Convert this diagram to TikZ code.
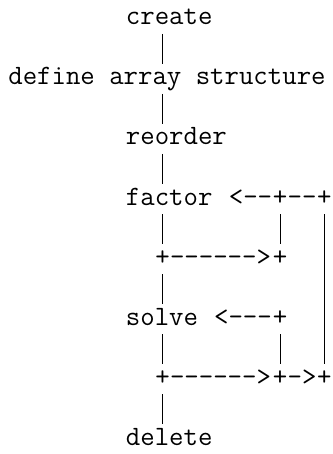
\documentclass[tikz,border=0pt]{standalone}
\begin{document}
\begin{tikzpicture}[x=1pt,y=1pt,
  txt/.style={anchor=base west, inner sep=0pt, outer sep=0pt,
    font=\ttfamily\fontsize{28}{30}\selectfont,
    text height=21pt, text depth=9pt},
  bar/.style={line width=1.4pt, black}]
\useasboundingbox (0,0) rectangle (332,-454);
\def\W{14.7}\def\X{8.35}\def\H{30.0}\def\B{25}
\def\dd{-\kern0pt}
\newcommand\gridnode[5][]{\node[txt,#1] (#2) at ({\X+#3*\W},{-(\B+#4*\H)}) {#5};}
% column lines
\coordinate (c10) at ({\X+10.5*\W},0);
\coordinate (c18) at ({\X+18.5*\W},0);
\coordinate (c21) at ({\X+21.5*\W},0);
% words
\gridnode{create}{8}{0}{create}
\gridnode{define}{0}{2}{define array structure}
\gridnode{reorder}{8}{4}{reorder}
\gridnode{factor}{8}{6}{factor}
\gridnode{solve}{8}{10}{solve}
\gridnode[text depth=1pt]{delete}{8}{14}{delete}
% row 6
\gridnode{a1}{15}{6}{<\dd\dd}
\gridnode{p1}{18}{6}{+}
\gridnode{a2}{19}{6}{\dd\dd}
\gridnode{p2}{21}{6}{+}
% row 8
\gridnode{p3}{10}{8}{+}
\gridnode{a3}{11}{8}{\dd\dd\dd\dd\dd\dd>}
\gridnode{p4}{18}{8}{+}
% row 10
\gridnode{a4}{14}{10}{<\dd\dd\dd}
\gridnode{p5}{18}{10}{+}
% row 12
\gridnode{p6}{10}{12}{+}
\gridnode{a5}{11}{12}{\dd\dd\dd\dd\dd\dd>}
\gridnode{p7}{18}{12}{+}
\gridnode{a6}{19}{12}{\dd>}
\gridnode{p8}{21}{12}{+}
% vertical bars
\draw[bar] (create.south -| c10) -- (define.north -| c10);
\draw[bar] (define.south -| c10) -- (reorder.north -| c10);
\draw[bar] (reorder.south -| c10) -- (factor.north -| c10);
\draw[bar] (factor.south -| c10) -- (p3.north -| c10);
\draw[bar] (p3.south -| c10) -- (solve.north -| c10);
\draw[bar] (solve.south -| c10) -- (p6.north -| c10);
\draw[bar] (p6.south -| c10) -- (delete.north -| c10);
\draw[bar] (p1.south -| c18) -- (p4.north -| c18);
\draw[bar] (p5.south -| c18) -- (p7.north -| c18);
\draw[bar] (p2.south -| c21) -- (p8.north -| c21);
\end{tikzpicture}
\end{document}
